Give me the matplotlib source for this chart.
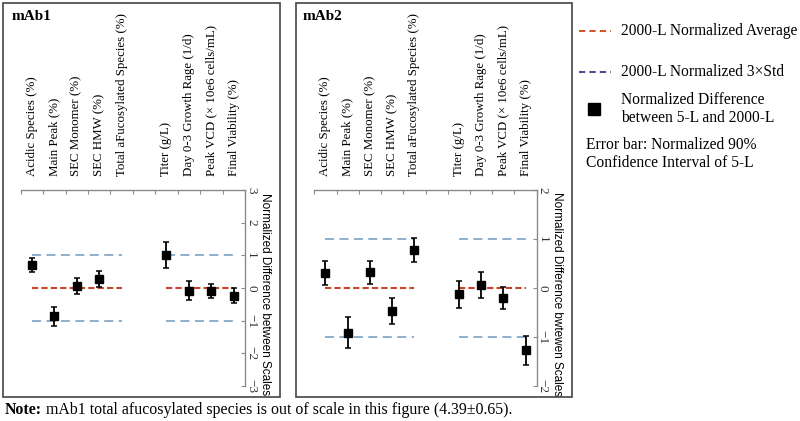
import numpy as np
import matplotlib.pyplot as plt
from matplotlib.lines import Line2D
from matplotlib.patches import Rectangle

categories = ['Acidic Species (%)', 'Main Peak (%)', 'SEC Monomer (%)', 'SEC HMW (%)',
              'Total aFucosylated Species (%)', '', 'Titer (g/L)',
              'Day 0-3 Growth Rage (1/d)', 'Peak VCD (\u00d7 10e6 cells/mL)',
              'Final Viability (%)']
groups = [(0, 4), (6, 9)]

# mAb1 total aFucosylated (4.39) is off the scale, clipped by the axis limits
mab1_vals = [0.70, -0.87, 0.06, 0.28, 4.39, np.nan, 1.00, -0.09, -0.09, -0.23]
mab1_err = [0.22, 0.28, 0.24, 0.25, 0.65, np.nan, 0.40, 0.29, 0.22, 0.24]
mab2_vals = [0.31, -0.91, 0.32, -0.47, 0.78, np.nan, -0.13, 0.06, -0.20, -1.27]
mab2_err = [0.25, 0.32, 0.23, 0.27, 0.25, np.nan, 0.27, 0.26, 0.22, 0.30]

avg_level = 0
std_level = 1

serif = 'Liberation Serif'
red = '#c8432b'
light_blue = '#86a9c9'

W, H = 800, 421
fig = plt.figure(figsize=(8, 4.21), dpi=100)


def px(x0, y0, w, h):
    return [x0 / W, 1 - (y0 + h) / H, w / W, h / H]


def draw_panel(rect, vals, errs, lim, ylabel):
    ax = fig.add_axes(rect)
    x = np.arange(len(categories))
    ax.set_xlim(-0.5, len(categories) - 0.5)
    ax.set_ylim(-lim, lim)
    for a, b in groups:
        ax.hlines(avg_level, a, b, colors=red, linestyles=(0, (3, 1.5)), lw=1.5, zorder=2)
        ax.hlines([std_level, -std_level], a, b, colors=light_blue,
                  linestyles=(0, (5, 3)), lw=1.3, zorder=2)
    ax.errorbar(x, vals, yerr=errs, fmt='s', color='black', ms=6, capsize=2.5,
                elinewidth=1.3, capthick=1.1, zorder=3)

    for s in ['left', 'bottom']:
        ax.spines[s].set_visible(False)
    for s in ['top', 'right']:
        ax.spines[s].set_color('#8a8a8a')
        ax.spines[s].set_linewidth(1.0)

    ax.set_xticks(np.arange(-0.5, len(categories)))
    ax.set_xticks(x, minor=True)
    ax.set_xticklabels([])
    ax.set_xticklabels(categories, minor=True, rotation=90, fontfamily=serif, fontsize=9.3)
    ax.tick_params(axis='x', which='major', top=True, bottom=False, direction='in',
                   length=3, color='#8a8a8a', labeltop=False, labelbottom=False)
    ax.tick_params(axis='x', which='minor', top=False, bottom=False, length=0,
                   labeltop=True, labelbottom=False, pad=10)

    ax.set_yticks(np.arange(-lim, lim + 1))
    ax.yaxis.tick_right()
    ax.tick_params(axis='y', direction='in', length=3, color='#8a8a8a', pad=0,
                   labelrotation=-90, labelsize=9.5, labelcolor='#333333')
    for t in ax.get_yticklabels():
        t.set_fontfamily(serif)
        t.set_va('center')
    ax.yaxis.set_label_position('right')
    ax.set_ylabel(ylabel, rotation=-90, fontsize=8.5, fontfamily='Liberation Sans',
                  va='center', ha='center')
    ax.yaxis.set_label_coords(1.09, 0.47)
    return ax


ax1 = draw_panel(px(20.7, 190, 224.3, 196), mab1_vals, mab1_err, 3,
                 'Normalized Difference between Scales')
ax2 = draw_panel(px(314.3, 190, 222.4, 196), mab2_vals, mab2_err, 2,
                 'Normalized Difference bwtewen Scales')

# panel frames
for x0, x1 in [(3, 280), (296, 572)]:
    fig.patches.append(Rectangle((x0 / W, 1 - 397 / H), (x1 - x0) / W, 394 / H,
                                 transform=fig.transFigure, fill=False,
                                 edgecolor='#444444', lw=1.2))

fig.text(12 / W, 1 - 17 / H, 'mAb1', fontfamily=serif, fontweight='bold', fontsize=11, va='center')
fig.text(303 / W, 1 - 17 / H, 'mAb2', fontfamily=serif, fontweight='bold', fontsize=11, va='center')

# legend, drawn entry by entry
legend_rows = [
    (31, dict(color='#d2542a', ls=(0, (3, 2)), lw=1.5), '2000-L Normalized Average'),
    (72, dict(color='#4b4d96', ls=(0, (3, 2)), lw=1.5), '2000-L Normalized 3\u00d7Std'),
    (109, dict(color='black', marker='s', ls='none', ms=8),
     'Normalized Difference\nbetween 5-L and 2000-L'),
]
for y, style, label in legend_rows:
    yf = 1 - y / H
    if style.get('marker'):
        fig.add_artist(Line2D([594 / W], [yf], transform=fig.transFigure, **style))
    else:
        fig.add_artist(Line2D([579 / W, 611 / W], [yf, yf], transform=fig.transFigure, **style))
    fig.text(621 / W, yf, label, fontfamily=serif, fontsize=11.2, va='center',
             linespacing=1.15)
fig.text(586 / W, 1 - 154 / H, 'Error bar: Normalized 90%\nConfidence Interval of 5-L',
         fontfamily=serif, fontsize=11.2, va='center', linespacing=1.15)

note = fig.text(5 / W, 1 - 410 / H, 'Note:', fontfamily=serif, fontweight='bold',
                fontsize=11.4, va='center')
ax1.annotate('mAb1 total afucosylated species is out of scale in this figure (4.39\u00b10.65).',
             xy=(1, 0), xycoords=note, xytext=(4, 0), textcoords='offset pixels',
             va='bottom', ha='left', fontfamily=serif, fontsize=11.4,
             annotation_clip=False)

fig.savefig('out.png', dpi=100)
